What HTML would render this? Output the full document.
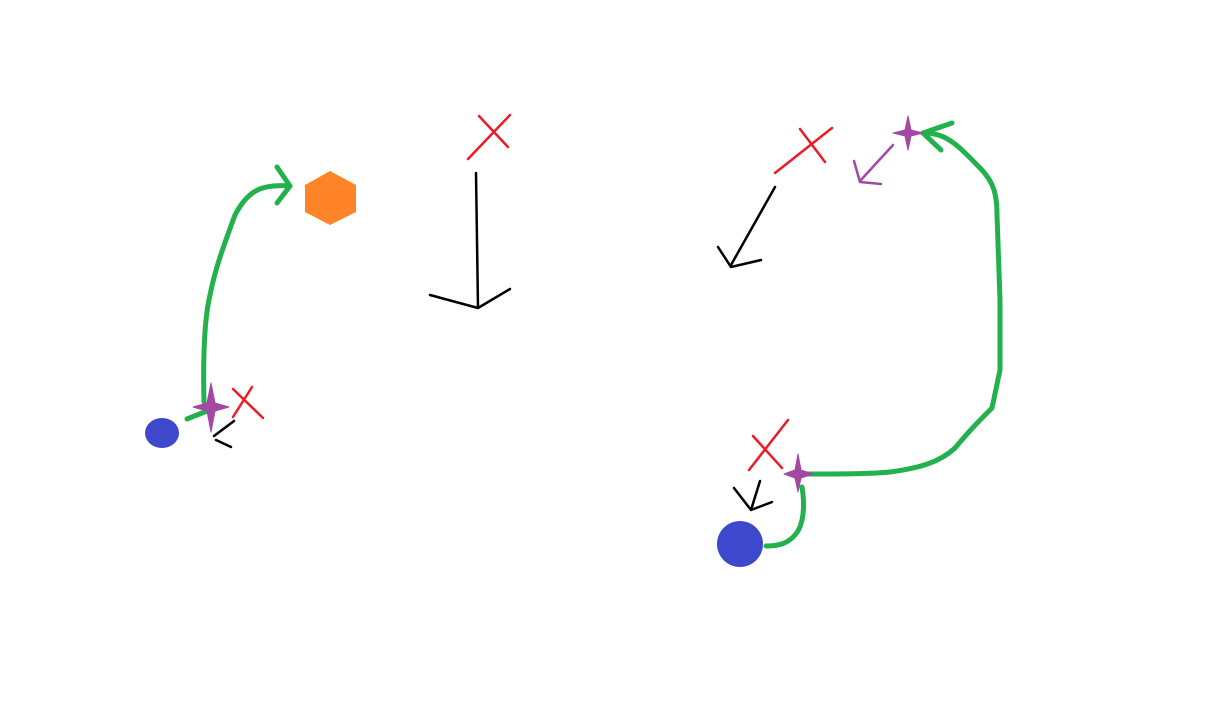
<!DOCTYPE html>
<html><head><style>html,body{margin:0;padding:0;background:#fff;width:1229px;height:727px;overflow:hidden}</style></head>
<body>
<svg width="1229" height="727" viewBox="0 0 1229 727" xmlns="http://www.w3.org/2000/svg" fill="none" stroke-linecap="round" stroke-linejoin="round">
<!-- left group -->
<ellipse cx="162" cy="433" rx="17" ry="15" fill="#3e48cc"/>
<polygon points="330,171 356,185 356,212 330,225 305,212 305,185" fill="#fe8427"/>
<path d="M187,419 L207,411" stroke="#22b14c" stroke-width="5"/>
<path d="M204,402 C203,360 204,320 210,295 C215,270 222,250 235,215 C248,190 262,184 290,186" stroke="#22b14c" stroke-width="5"/>
<path d="M277,167 L290,186 L277,203" stroke="#22b14c" stroke-width="5"/>
<path d="M211,383 L215,403 L229,407 L215,411 L211,432 L207,411 L193,407 L207,403 Z" fill="#a349a4" stroke="#a349a4" stroke-width="1"/>
<path d="M233,389 L263,418 M252,387 L233,417" stroke="#ed1c24" stroke-width="2.5"/>
<path d="M234,421 L214,436 M216,440 L231,447" stroke="#000" stroke-width="2.5"/>
<!-- middle -->
<path d="M468,159 L510,115 M479,116 L508,147" stroke="#ed1c24" stroke-width="2.5"/>
<path d="M476,173 L478,308 M430,295 L478,308 L510,289" stroke="#000" stroke-width="2.5"/>
<!-- right group -->
<path d="M775,173 L832,128 M800,129 L825,162" stroke="#ed1c24" stroke-width="2.5"/>
<path d="M775,187 L731,265 M718,247 L731,267 L761,260" stroke="#000" stroke-width="2.5"/>
<path d="M893,145 L860,181 M854,161 L860,182 L881,184" stroke="#a349a4" stroke-width="2.5"/>
<path d="M923,133 C945,133 955,142 980,168 C994,182 997,195 997,215 L1000,300 L1000,370 L992,408 C980,420 970,430 955,448 C940,462 920,468 890,472 C870,474 840,474 805,474" stroke="#22b14c" stroke-width="5"/>
<path d="M952,123 L923,133 L941,150" stroke="#22b14c" stroke-width="5"/>
<path d="M802,487 C805,505 804,525 795,535 C788,543 780,546 766,546" stroke="#22b14c" stroke-width="5"/>
<circle cx="740" cy="544" r="23" fill="#3e48cc"/>
<path d="M908,116 L911,130 L923,133 L911,136 L908,150 L905,136 L893,133 L905,130 Z" fill="#a349a4" stroke="#a349a4" stroke-width="1"/>
<path d="M798,454 L801,470 L813,474 L801,478 L798,492 L795,478 L784,474 L795,470 Z" fill="#a349a4" stroke="#a349a4" stroke-width="1"/>
<path d="M749,470 L788,420 M753,436 L782,468" stroke="#ed1c24" stroke-width="2.5"/>
<path d="M760,481 L751,510 M734,488 L751,510 L772,502" stroke="#000" stroke-width="2.5"/>
</svg>
</body></html>
